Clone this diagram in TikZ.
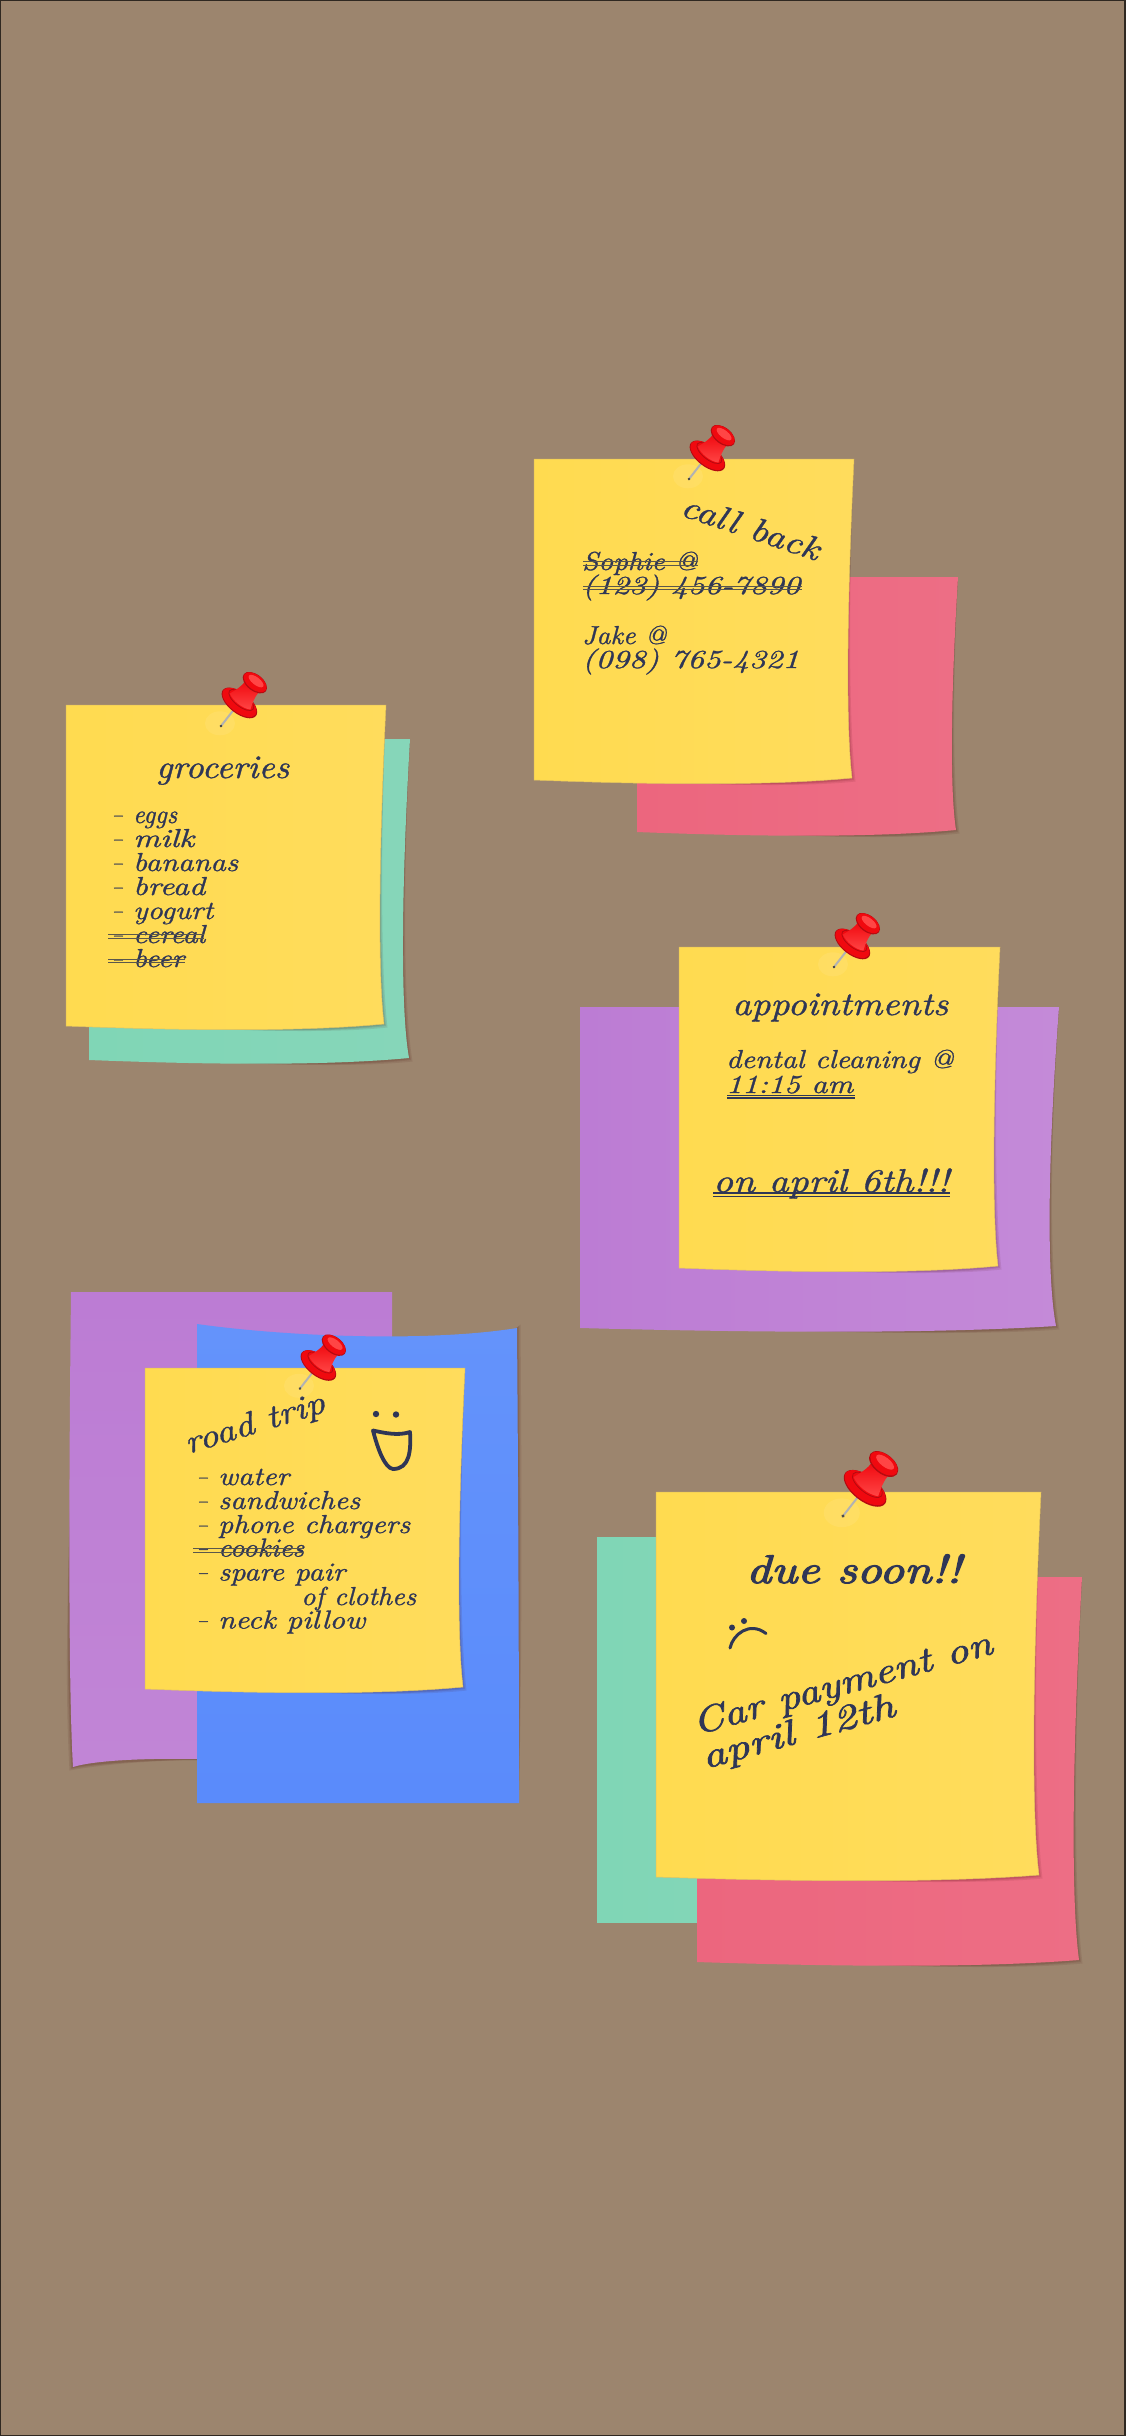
\documentclass[tikz,border=0pt]{standalone}
\usepackage{fontspec}
\usepackage{graphicx}
\newfontface\hand{lmroman10-italic.otf}[FakeBold=1.0]
\newfontface\handbold{lmroman10-italic.otf}[FakeBold=2.6]
\newfontface\handsemi{lmroman10-italic.otf}[FakeBold=1.7]
\definecolor{board}{HTML}{9C856E}
\definecolor{ink}{HTML}{2F3656}
\definecolor{strikec}{HTML}{5A574C}
\definecolor{ya}{HTML}{FFDB50}\definecolor{yb}{HTML}{FFE272}\definecolor{yc}{HTML}{FFDC5C}\definecolor{yd}{HTML}{E3C45F}
\definecolor{pa}{HTML}{EC667E}\definecolor{pb}{HTML}{F27E93}\definecolor{pc}{HTML}{ED6E85}
\definecolor{ga}{HTML}{80D6B6}\definecolor{gb}{HTML}{92DDC3}\definecolor{gc}{HTML}{86D6B9}
\definecolor{va}{HTML}{BC7CD4}\definecolor{vb}{HTML}{C991DB}\definecolor{vc}{HTML}{C48AD8}
\definecolor{vd}{HTML}{C98FDB}\definecolor{ve}{HTML}{C185D6}
\definecolor{ba}{HTML}{6493FB}\definecolor{bb}{HTML}{6E99FD}\definecolor{bc}{HTML}{5A8BFB}
\definecolor{pinred}{HTML}{F0090F}\definecolor{pinlight}{HTML}{FF4545}\definecolor{pindark}{HTML}{B50A10}
\tikzset{
  yellownote/.style={left color=ya,middle color=yb,right color=yc,draw=yd,line width=.5pt},
  pinknote/.style={left color=pa,middle color=pb,right color=pc},
  greennote/.style={left color=ga,middle color=gb,right color=gc},
  purplenote/.style={left color=va,middle color=vb,right color=vc},
  vpurple/.style={top color=va,middle color=vd,bottom color=ve},
  vblue/.style={top color=ba,middle color=bb,bottom color=bc},
  softshadow/.style={fill=black!75!red,opacity=.09},
  handtext/.style={text=ink,inner sep=0pt,anchor=base west,font=\hand\fontsize{26}{26}\selectfont},
  titletext/.style={handtext,font=\hand\fontsize{33}{33}\selectfont},
  duetext/.style={handtext,font=\handbold\fontsize{40}{40}\selectfont},
  cartext/.style={handtext,font=\handsemi\fontsize{36}{36}\selectfont},
  strikeline/.style={draw=strikec,line width=1pt},
  underl/.style={draw=ink,line width=1.1pt},
  facestroke/.style={draw=ink,line cap=round,line join=round},
}
% curlnote{style}{L}{T}{R}{B}{dip}{endoffset}
\newcommand\curlnote[7]{{%
  \pgfmathsetmacro\nw{#4-#2}\pgfmathsetmacro\nh{#5-#3}%
  \pgfmathsetmacro\na{1.4*#6-.6}%
  \foreach \ofs in {1,2,3.5}{%
    \path[softshadow]
      (#4,#3+1) .. controls (#4-\na+.4*\ofs,#3+.5*\nh) and (#4-\na+\ofs,#3+.85*\nh) .. (#4-#7+\ofs,#5-2+\ofs)
      .. controls (#4-#7-.15*\nw,#5+5+.6*\ofs) and (#2+.6*\nw,#5+5) .. (#2+.4*\nw,#5+2) -- cycle;
  }%
  \path[#1] (#2,#3) -- (#4,#3)
    .. controls (#4-\na,#3+.5*\nh) and (#4-\na,#3+.85*\nh) .. (#4-#7,#5-2)
    .. controls (#4-#7-.25*\nw,#5+5.5) and (#2+.4*\nw,#5+5) .. (#2,#5) -- cycle;
}}
% fitted handwriting: hw{width}{text}
\newcommand\hw[2]{\resizebox{#1pt}{\height}{#2}}
% pin{tipx}{tipy}{scale}
\newcommand\pushpin[3]{%
  \begin{scope}[shift={(#1,#2)},rotate=52,scale=#3]
    \fill[white,opacity=.08,rotate=-52] (-1pt,2.7pt) ellipse (15pt and 12pt);
    \draw[gray!60,line width=2pt] (1pt,0pt) -- (25pt,0pt);
    \fill[black!70] (0pt,0pt) circle (1.5pt);
    % flange
    \fill[pindark] (29.5pt,-.3pt) ellipse (10.5pt and 21pt);
    \fill[pinred] (30pt,0pt) ellipse (9.8pt and 20.2pt);
    \draw[pindark,line width=.8pt] (33pt,0pt) ellipse (6.5pt and 15pt);
    % barrel
    \shade[top color=pinred,bottom color=pinlight]
      (31pt,13pt) .. controls (38pt,10.5pt) and (44pt,8pt) .. (50pt,8.5pt) -- (50pt,-9pt) .. controls (44pt,-8.5pt) and (38pt,-10.5pt) .. (31pt,-13pt)
      .. controls (27pt,-6pt) and (27pt,6pt) .. (31pt,13pt) -- cycle;
    % top
    \fill[pindark] (55pt,0pt) ellipse (8.2pt and 14pt);
    \fill[pinred] (55.5pt,0pt) ellipse (7.4pt and 13.2pt);
    \fill[pinlight] (57pt,0pt) ellipse (3.8pt and 9pt);
  \end{scope}}
\begin{document}
\begin{tikzpicture}[x=1pt,y=-1pt]
\useasboundingbox (0,0) rectangle (1125,2436);
\fill[board] (0,0) rectangle (1125,2436);
\draw[black!70!board,line width=2pt] (0,0) rectangle (1125,2436);

% ---- call back
\curlnote{pinknote}{637}{577}{958}{832}{6}{2}
\curlnote{yellownote}{534}{459}{854}{780}{6}{2}
\node[titletext,rotate=-18.5] (cb) at (679,515) {\hw{144}{call back}};
\node[handtext] (s1) at (582,570) {\hw{115}{Sophie @}};
\node[handtext] (s2) at (582,594) {\hw{218}{(123) 456-7890}};
\node[handtext] (s3) at (582,644) {\hw{84}{Jake @}};
\node[handtext] (s4) at (582,668) {\hw{217}{(098) 765-4321}};
\draw[strikeline] (583,561.5) -- (698,561.5) (583,565) -- (698,565);
\draw[strikeline] (583,586) -- (802,586) (583,589.5) -- (802,589.5);
\pushpin{689}{479}{1}

% ---- groceries
\curlnote{greennote}{89}{739}{410}{1060}{7}{1}
\curlnote{yellownote}{66}{705}{386}{1026}{6}{2}
\node[titletext] (g0) at (156,778) {\hw{133}{groceries}};
\foreach \liney/\wdt/\tx in {823/44/eggs,847/61/milk,871/105/bananas,895/72/bread,919/80/yogurt,943/72/cereal,967/51/beer}{
  \node[handtext] at (112,\liney) {\hw{10}{–}};
  \node[handtext] at (133,\liney) {\hw{\wdt}{\tx}};
}
\draw[strikeline] (108,934.5) -- (204,934.5) (108,938) -- (204,938);
\draw[strikeline] (108,959) -- (185,959) (108,962.5) -- (185,962.5);
\pushpin{221}{726}{1}

% ---- appointments
\curlnote{purplenote}{580}{1007}{1059}{1328}{9}{3}
\curlnote{yellownote}{679}{947}{1000}{1268}{6}{2}
\node[titletext] (a0) at (732,1015) {\hw{216}{appointments}};
\node[handtext] (a1) at (726,1068) {\hw{227}{dental cleaning @}};
\node[handtext] (a2) at (726,1093) {\hw{127}{11:15 am}};
\node[titletext] (a3) at (713,1192) {\hw{236}{on april 6th!!!}};
\draw[underl] (727,1095.5) -- (855,1095.5) (727,1098) -- (855,1098);
\draw[underl] (713,1193) -- (950,1193) (713,1196.5) -- (950,1196.5);
\pushpin{834}{967}{1}

% ---- road trip
\foreach \ofs in {1,2,3.5}{
  \path[softshadow] (70,1500) .. controls (68-.4*\ofs,1620) and (69-\ofs,1700) .. (73-\ofs,1767+\ofs) .. controls (95,1762+\ofs) and (150,1760) .. (200,1760) -- cycle;
}
\path[vpurple] (71,1292) -- (392,1292) -- (392,1759) -- (200,1759)
  .. controls (150,1758) and (95,1760) .. (73,1767)
  .. controls (68,1680) and (69,1470) .. (71,1292) -- cycle;
\foreach \ofs in {1,2,3.5}{
  \path[softshadow] (480,1340) .. controls (500,1338) and (510,1334) .. (517+\ofs,1328-\ofs) .. controls (518+\ofs,1450) and (519+\ofs,1650) .. (519,1790) -- (500,1790) -- cycle;
}
\path[vblue] (197,1324) .. controls (290,1337) and (430,1342) .. (517,1328)
  .. controls (518,1450) and (519,1650) .. (519,1803) -- (197,1803) -- cycle;
\curlnote{yellownote}{145}{1368}{465}{1689}{6}{2}
\node[titletext,rotate=17] (r0) at (188,1454) {\hw{145}{road trip}};
\foreach \liney/\wdt/\tx in {1485/71/water,1509/142/sandwiches,1533/192/phone chargers,1556.5/86/cookies,1580.5/127/spare pair,1628.5/147/neck pillow}{
  \node[handtext] at (197,\liney) {\hw{10}{–}};
  \node[handtext] at (218,\liney) {\hw{\wdt}{\tx}};
}
\node[handtext] (r6) at (301,1605) {\hw{115}{of clothes}};
\draw[strikeline] (193,1548.5) -- (304,1548.5) (193,1552) -- (304,1552);
\fill[ink] (376,1414) circle (3.2) (396,1414.5) circle (3.2);
\draw[facestroke,line width=3.8pt] (373,1430.5) .. controls (385,1433) and (398,1436) .. (410,1432)
  .. controls (411,1450) and (410,1469) .. (393,1469) .. controls (385,1468) and (378,1450) .. (373,1430.5) -- cycle;
\pushpin{300}{1388.5}{1}

% ---- due soon
\fill[left color=ga,middle color=gb,right color=gc] (597,1537) rectangle (900,1922);
\curlnote{pinknote}{697}{1577}{1082}{1962}{8}{3}
\curlnote{yellownote}{656}{1492}{1041}{1877}{7}{2}
\node[duetext] (d0) at (746,1583) {\hw{215}{due soon!!}};
\fill[ink] (732,1627.5) circle (3) (744,1621) circle (3);
\draw[facestroke,line width=3pt] (730,1648) .. controls (733,1634) and (750,1621) .. (766,1633.5);
\node[cartext,rotate=15.3] (d1) at (696,1735) {\hw{309}{Car payment on}};
\node[cartext,rotate=15.5] (d2) at (705,1769) {\hw{199}{april 12th}};
\pushpin{843}{1516}{1.2}
\end{tikzpicture}
\end{document}
